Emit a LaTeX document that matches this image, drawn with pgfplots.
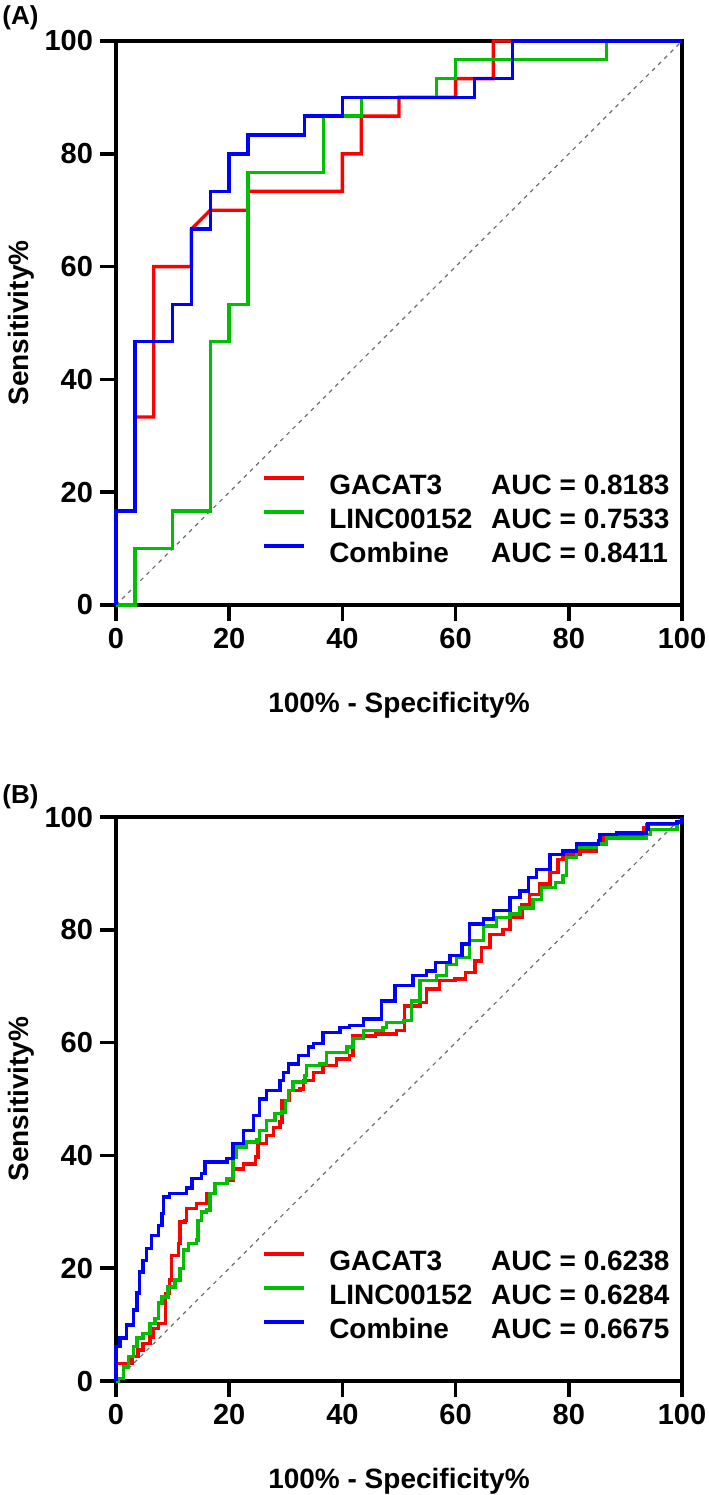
\documentclass[border=0pt]{standalone}
\usepackage{fontspec}
\setmainfont{Liberation Sans}
\usepackage{pgfplots}
\pgfplotsset{compat=1.18}

\definecolor{rocred}{RGB}{255,0,0}
\definecolor{rocgreen}{RGB}{0,190,0}
\definecolor{rocblue}{RGB}{0,0,255}
\definecolor{diaggray}{RGB}{110,110,110}

\pgfplotsset{
  rocaxis/.style={
    scale only axis, width=283pt, height=282pt,
    xmin=0, xmax=100, ymin=0, ymax=100,
    xtick={0,20,...,100}, ytick={0,20,...,100},
    xtick pos=left, ytick pos=left,
    tick align=outside, major tick length=8pt,
    axis line style={line width=1.8pt},
    tick style={line width=1.8pt, black},
    tick label style={font=\fontsize{14.5}{16}\selectfont\bfseries},
    /pgf/number format/assume math mode=true,
    label style={font=\fontsize{14}{16}\selectfont\bfseries},
    xlabel={100\% - Specificity\%},
    ylabel={Sensitivity\%},
    xlabel style={at={(axis description cs:0.5,-0.177)}, anchor=center},
    ylabel style={at={(axis description cs:-0.168,0.5)}, anchor=center},
    clip=false,
    legend cell align=left,
    legend image code/.code={\draw[#1, line width=1.7pt] (0pt,5pt) -- (20pt,5pt);},
    legend style={draw=none, fill=none, at={(0.257,0.235)}, anchor=north west,
      inner sep=0pt, row sep=2pt, column sep=12pt,
      font=\fontsize{14}{16}\selectfont\bfseries,
      nodes={inner sep=0pt, text height=11pt, text depth=4pt}},
  },
  roc/.style={line width=1.7pt, #1},
}

\begin{document}
\begin{tikzpicture}
\useasboundingbox (0,0) rectangle (354pt,-747.5pt);

\node[anchor=west, inner sep=0pt, font=\fontsize{13}{15}\selectfont\bfseries] at (1pt,-9pt) {(A)};
\begin{axis}[rocaxis, at={(58pt,-302.5pt)}, anchor=south west]
\addplot[forget plot, diaggray, line width=0.6pt, dash pattern=on 2pt off 2.3pt] coordinates {(0,0) (100,100)};
% GACAT3
\addplot[roc=rocred] coordinates {
 (0,0) (0,16.67) (3.33,16.67) (3.33,33.33) (6.67,33.33) (6.67,60) (13.33,60)
 (13.33,66.67) (16.67,70) (23.33,70) (23.33,73.33) (40,73.33) (40,80)
 (43.33,80) (43.33,86.67) (50,86.67) (50,90) (60,90) (60,93.33)
 (66.67,93.33) (66.67,100) (100,100)};
\addlegendentry{\makebox[81pt][l]{GACAT3}AUC = 0.8183}
% LINC00152
\addplot[roc=rocgreen] coordinates {
 (0,0) (3.33,0) (3.33,10) (10,10) (10,16.67) (16.67,16.67) (16.67,46.67)
 (20,46.67) (20,53.33) (23.33,53.33) (23.33,76.67) (36.67,76.67) (36.67,86.67)
 (43.33,86.67) (43.33,90) (56.67,90) (56.67,93.33) (60,93.33) (60,96.67)
 (86.67,96.67) (86.67,100) (100,100)};
\addlegendentry{\makebox[81pt][l]{LINC00152}AUC = 0.7533}
% Combine
\addplot[roc=rocblue] coordinates {
 (0,0) (0,16.67) (3.33,16.67) (3.33,46.67) (10,46.67) (10,53.33) (13.33,53.33)
 (13.33,66.67) (16.67,66.67) (16.67,73.33) (20,73.33) (20,80) (23.33,80)
 (23.33,83.33) (33.33,83.33) (33.33,86.67) (40,86.67) (40,90) (63.33,90)
 (63.33,93.33) (70,93.33) (70,100) (100,100)};
\addlegendentry{\makebox[81pt][l]{Combine}AUC = 0.8411}
\end{axis}

\node[anchor=west, inner sep=0pt, font=\fontsize{13}{15}\selectfont\bfseries] at (1pt,-398.5pt) {(B)};
\begin{axis}[rocaxis, at={(58pt,-690.5pt)}, anchor=south west]
\addplot[forget plot, diaggray, line width=0.6pt, dash pattern=on 2pt off 2.3pt] coordinates {(0,0) (100,100)};
% GACAT3
\addplot[roc=rocred, const plot] coordinates {
 (0,0) (0,3.1) (1.6,3.1) (2.8,4.3) (3.9,5.5) (4.8,6.7) (6,7.8) (6.6,9.3)
 (7.5,10.2) (8.7,10.8) (8.7,15.5) (9.5,17.9) (9.8,22.3) (11,24.4) (11.3,28.2)
 (12.2,28.5) (12.5,30.6) (14.2,31.5) (16,33.2) (17.5,35) (19.6,35.6) (20.7,37.6)
 (22.5,38.5) (24.6,39.7) (25.1,42.1) (26.6,43.5) (27.8,45) (29,45.9) (29.3,49.7)
 (30.7,51.5) (32.5,51.8) (33.1,53.3) (34.9,54.7) (36.6,55.9) (39,57.1)
 (41.3,57.7) (41.9,61.2) (45.8,61.5) (49.6,62.1) (51,66.5) (53.7,67.1)
 (54.9,69.5) (57.2,71) (59.9,71.3) (61.7,72.4) (63.4,74.5) (64.6,76.9)
 (66.1,79.2) (68.4,80.1) (69.6,82.2) (71.7,84.5) (73.1,86.3) (74.9,88.1)
 (76.7,90.2) (78.1,92.5) (79,93.4) (82,94) (84.9,95.2) (86.1,96.9) (93.2,98.1)
 (93.8,98.7) (99,99) (100,100)};
\addlegendentry{\makebox[81pt][l]{GACAT3}AUC = 0.6238}
% LINC00152
\addplot[roc=rocgreen, const plot] coordinates {
 (0,0) (0.4,0.5) (1.3,2.5) (2.2,4.3) (3.1,6.1) (3.7,7.6) (4.8,8.4) (6,10.2)
 (6.9,11.1) (7.5,13.8) (8.1,14.9) (9.2,16.7) (10.4,17.9) (11.3,19.9) (11.9,23.2)
 (12.8,24.4) (14.2,25) (14.5,28.5) (15.1,30) (16,30.3) (16.6,33.2) (17.5,35)
 (19.6,35.9) (20.7,39.7) (21.3,41.5) (23.1,42.4) (24.9,42.7) (25.4,44.4)
 (26.6,46.2) (28.1,47.4) (29.3,47.7) (29.9,49.7) (30.5,51.5) (31.3,53)
 (33.4,54.2) (33.7,55.9) (36,56.2) (37.2,58.3) (40.8,59.2) (41.9,60.7)
 (43.7,62.1) (47.2,62.7) (47.8,63.6) (50.8,63.9) (52.2,67.4) (53.7,71)
 (56.6,71.9) (58.4,73.9) (60.2,75.1) (62.5,78.1) (64.9,80.7) (67.2,82.2)
 (69.6,82.8) (71.4,83.9) (73.7,85.4) (75.2,87.5) (77.6,88.4) (79,89.6)
 (79.6,92.8) (81.4,94.6) (84.9,95.2) (86.7,96.3) (93.7,96.9) (94.4,97.8)
 (99.1,99.1) (100,100)};
\addlegendentry{\makebox[81pt][l]{LINC00152}AUC = 0.6284}
% Combine
\addplot[roc=rocblue, const plot] coordinates {
 (0,0) (0,6.1) (0.7,7.6) (1.9,9.9) (3.1,12.6) (3.7,15.6) (4.2,19.3) (4.8,21.4)
 (5.4,23.5) (6.3,25.8) (7.5,27.6) (8.1,29.7) (8.4,32.6) (9.5,33.3) (12.5,34.2)
 (13.4,35.9) (15.1,36.8) (15.7,38.8) (19.6,39.5) (20.7,42.1) (22.5,44.4)
 (24.3,47.1) (25.4,50) (26.6,51.5) (29,53.3) (29.6,54.7) (30.5,56.2)
 (32.2,57.7) (34,59.2) (34.9,59.8) (36.6,61.8) (39.6,62.7) (41.3,63)
 (43.7,64.2) (46.9,67.4) (49.3,70.1) (52.5,71.9) (54.9,72.7) (56.4,74.2)
 (59,75.4) (61.1,77.5) (62.5,81) (64.9,81.9) (66.7,83.4) (69.6,85.7)
 (71.4,86.9) (72.9,89.3) (74.3,90.7) (76.7,93.4) (79,94) (81.4,95.2)
 (85.2,95.8) (85.5,96.9) (88.4,97.2) (93.7,97.8) (94,98.8) (99.1,99.1)
 (100,100)};
\addlegendentry{\makebox[81pt][l]{Combine}AUC = 0.6675}
\end{axis}
\end{tikzpicture}
\end{document}
